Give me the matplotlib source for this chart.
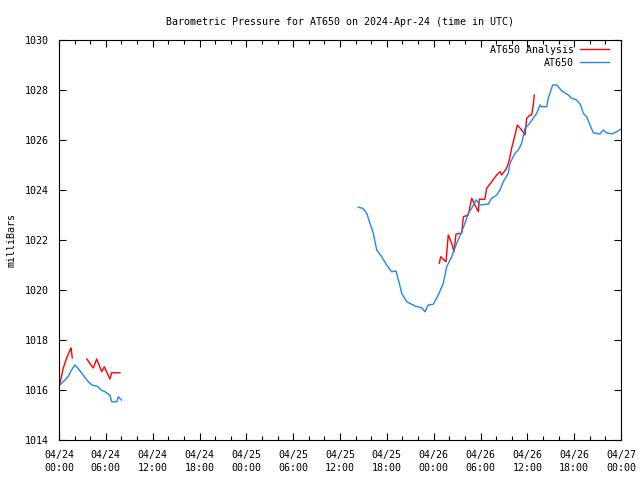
import numpy as np
import matplotlib
matplotlib.use("Agg")
import matplotlib.pyplot as plt
from matplotlib.ticker import MultipleLocator

nan = np.nan
# hours since 2024-04-24 00:00 UTC
blue_h = [0.13, 0.6, 1.2, 1.6, 2.05, 2.6, 3.2, 3.7, 4.2, 4.9, 5.4, 5.9, 6.5, 6.75, 7.4, 7.6, 8.0,
          nan,
          38.34, 38.9, 39.42, 39.84, 40.27, 40.7, 41.34, 41.98, 42.62, 43.17, 43.6, 43.9, 44.54,
          45.6, 46.46, 46.89, 47.3, 47.95, 48.59, 49.23, 49.67, 50.31, 50.95, 51.59, 52.01,
          52.43, 52.87, 53.42, 53.93, 55.0, 55.43, 56.07, 56.5, 56.92, 57.56, 57.78, 58.42,
          58.84, 59.28, 59.7, 60.12, 60.76, 61.2, 61.62, 61.84, 62.48, 62.68, 63.25, 63.76,
          64.4, 65.25, 65.68, 66.32, 66.83, 67.17, 67.6, 68.03, 68.45, 69.31, 69.73, 70.17,
          70.81, 71.45, 71.96]
blue_p = [1016.2, 1016.35, 1016.55, 1016.8, 1017.0, 1016.8, 1016.55, 1016.35, 1016.2, 1016.15,
          1016.0, 1015.93, 1015.8, 1015.53, 1015.53, 1015.73, 1015.6,
          nan,
          1023.31, 1023.27, 1023.07, 1022.67, 1022.27, 1021.6, 1021.33, 1021.0, 1020.73,
          1020.76, 1020.27, 1019.87, 1019.53, 1019.36, 1019.29, 1019.13, 1019.4, 1019.43,
          1019.8, 1020.27, 1020.93, 1021.33, 1021.87, 1022.33, 1022.67, 1023.07, 1023.27,
          1023.6, 1023.4, 1023.44, 1023.67, 1023.8, 1024.0, 1024.33, 1024.67, 1025.07,
          1025.47, 1025.6, 1025.87, 1026.47, 1026.6, 1026.87, 1027.07, 1027.4, 1027.33,
          1027.33, 1027.67, 1028.2, 1028.2, 1027.97, 1027.8, 1027.67, 1027.6, 1027.4,
          1027.07, 1026.93, 1026.6, 1026.29, 1026.24, 1026.4, 1026.29, 1026.24, 1026.33,
          1026.43]

red_h = [0.13, 0.55, 0.99, 1.41, 1.54, 1.7,
         nan,
         3.55, 4.39, 4.83, 5.47, 5.8, 6.53, 6.75, 7.81,
         nan,
         48.72, 48.9, 49.58, 49.87, 50.31, 50.6, 50.86, 51.59, 51.8, 52.43, 52.87, 53.29,
         53.72, 53.84, 54.57, 54.79, 55.43, 56.07, 56.5, 56.71, 57.35, 57.69, 57.99, 58.42,
         58.72, 59.28, 59.7, 59.92, 60.34, 60.55, 60.76, 60.89]
red_p = [1016.28, 1016.88, 1017.28, 1017.6, 1017.68, 1017.28,
         nan,
         1017.24, 1016.88, 1017.24, 1016.73, 1016.93, 1016.44, 1016.69, 1016.69,
         nan,
         1021.07, 1021.33, 1021.13, 1022.2, 1021.87, 1021.53, 1022.24, 1022.27, 1022.93,
         1023.0, 1023.67, 1023.4, 1023.13, 1023.63, 1023.63, 1024.07, 1024.33, 1024.6,
         1024.73, 1024.6, 1024.87, 1025.2, 1025.67, 1026.2, 1026.6, 1026.4, 1026.2, 1026.87,
         1027.0, 1027.0, 1027.4, 1027.8]

xtick_labels = ["04/24\n00:00", "04/24\n06:00", "04/24\n12:00", "04/24\n18:00",
                "04/25\n00:00", "04/25\n06:00", "04/25\n12:00", "04/25\n18:00",
                "04/26\n00:00", "04/26\n06:00", "04/26\n12:00", "04/26\n18:00",
                "04/27\n00:00"]

plt.rcParams['font.family'] = ['DejaVu Sans Mono']
plt.rcParams['font.size'] = 7.2

fig = plt.figure(figsize=(6.4, 4.8), dpi=100)
ax = fig.add_axes([59/640, 1-440/480, (621-59)/640, 400/480])

ax.plot(red_h, red_p, color='#ff0000', lw=1.0, label='AT650 Analysis')
ax.plot(blue_h, blue_p, color='#1e88f0', lw=1.0, label='AT650')

ax.set_xlim(0, 72)
ax.set_ylim(1014, 1030)
ax.set_xticks(np.arange(0, 73, 6))
ax.set_xticklabels(xtick_labels, linespacing=1.45)
ax.xaxis.set_minor_locator(MultipleLocator(2))
ax.set_yticks(np.arange(1014, 1031, 2))
ax.tick_params(direction='in', top=True, right=True, length=5, width=0.8)
ax.tick_params(axis='x', pad=7)
ax.tick_params(axis='y', pad=7)
ax.tick_params(which='minor', direction='in', top=True, length=3, width=0.8)
for s in ax.spines.values():
    s.set_linewidth(0.8)

ax.set_ylabel('milliBars', labelpad=6)
ax.set_title('Barometric Pressure for AT650 on 2024-Apr-24 (time in UTC)', fontsize=7.2, pad=11)

leg = ax.legend(loc='upper right', frameon=False, markerfirst=False, handlelength=2.9,
                borderaxespad=0.2, borderpad=0.3, labelspacing=0.3, handletextpad=0.6,
                bbox_to_anchor=(1 - 7/562, 1.0))
for t in leg.get_texts():
    t.set_ha('right')

fig.savefig('out.png', dpi=100)
